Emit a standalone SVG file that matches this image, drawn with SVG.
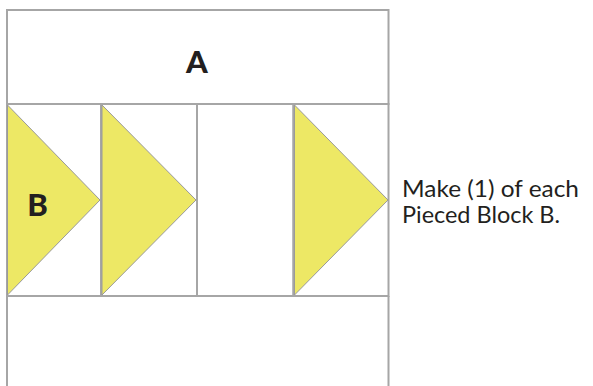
<svg xmlns="http://www.w3.org/2000/svg" width="593" height="386" viewBox="0 0 593 386">
<style>
.cell{fill:#ffffff;stroke:#a6a6a6;stroke-width:2}
.tri{fill:#ede865;stroke:#9a9a9a;stroke-width:1}
.lbl{font-family:"Lato","Liberation Sans",sans-serif;font-weight:900;font-size:31px;fill:#231f20}
.note{font-family:"Lato","Open Sans",sans-serif;font-size:22.5px;fill:#231f20}
</style>
<rect x="0" y="0" width="593" height="386" fill="#ffffff"/>
<g id="A">
<rect class="cell" x="7" y="10" width="381.5" height="94"/>
<text class="lbl" x="197" y="73" text-anchor="middle">A</text>
</g>
<g id="B1">
<rect class="cell" x="7" y="104" width="94" height="192"/>
<polygon class="tri" points="7.5,105 100,200 7.5,295"/>
<text class="lbl" x="37.5" y="216" text-anchor="middle">B</text>
</g>
<g id="B2">
<rect class="cell" x="101" y="104" width="96" height="192"/>
<polygon class="tri" points="102,105 196,200 102,295"/>
</g>
<g id="B3">
<rect class="cell" x="197" y="104" width="96.5" height="192"/>
</g>
<g id="B4">
<rect class="cell" x="293.5" y="104" width="95" height="192"/>
<polygon class="tri" points="294.5,105 388,200 294.5,295"/>
</g>
<g id="bottom">
<path d="M7,296 V387 M388.5,296 V387" stroke="#a6a6a6" stroke-width="2" fill="none"/>
</g>
<g id="connectors"></g>
<g id="note">
<text class="note" x="402" y="197" textLength="177" lengthAdjust="spacingAndGlyphs">Make (1) of each</text>
<text class="note" x="402" y="223" textLength="158" lengthAdjust="spacingAndGlyphs">Pieced Block B.</text>
</g>
</svg>
